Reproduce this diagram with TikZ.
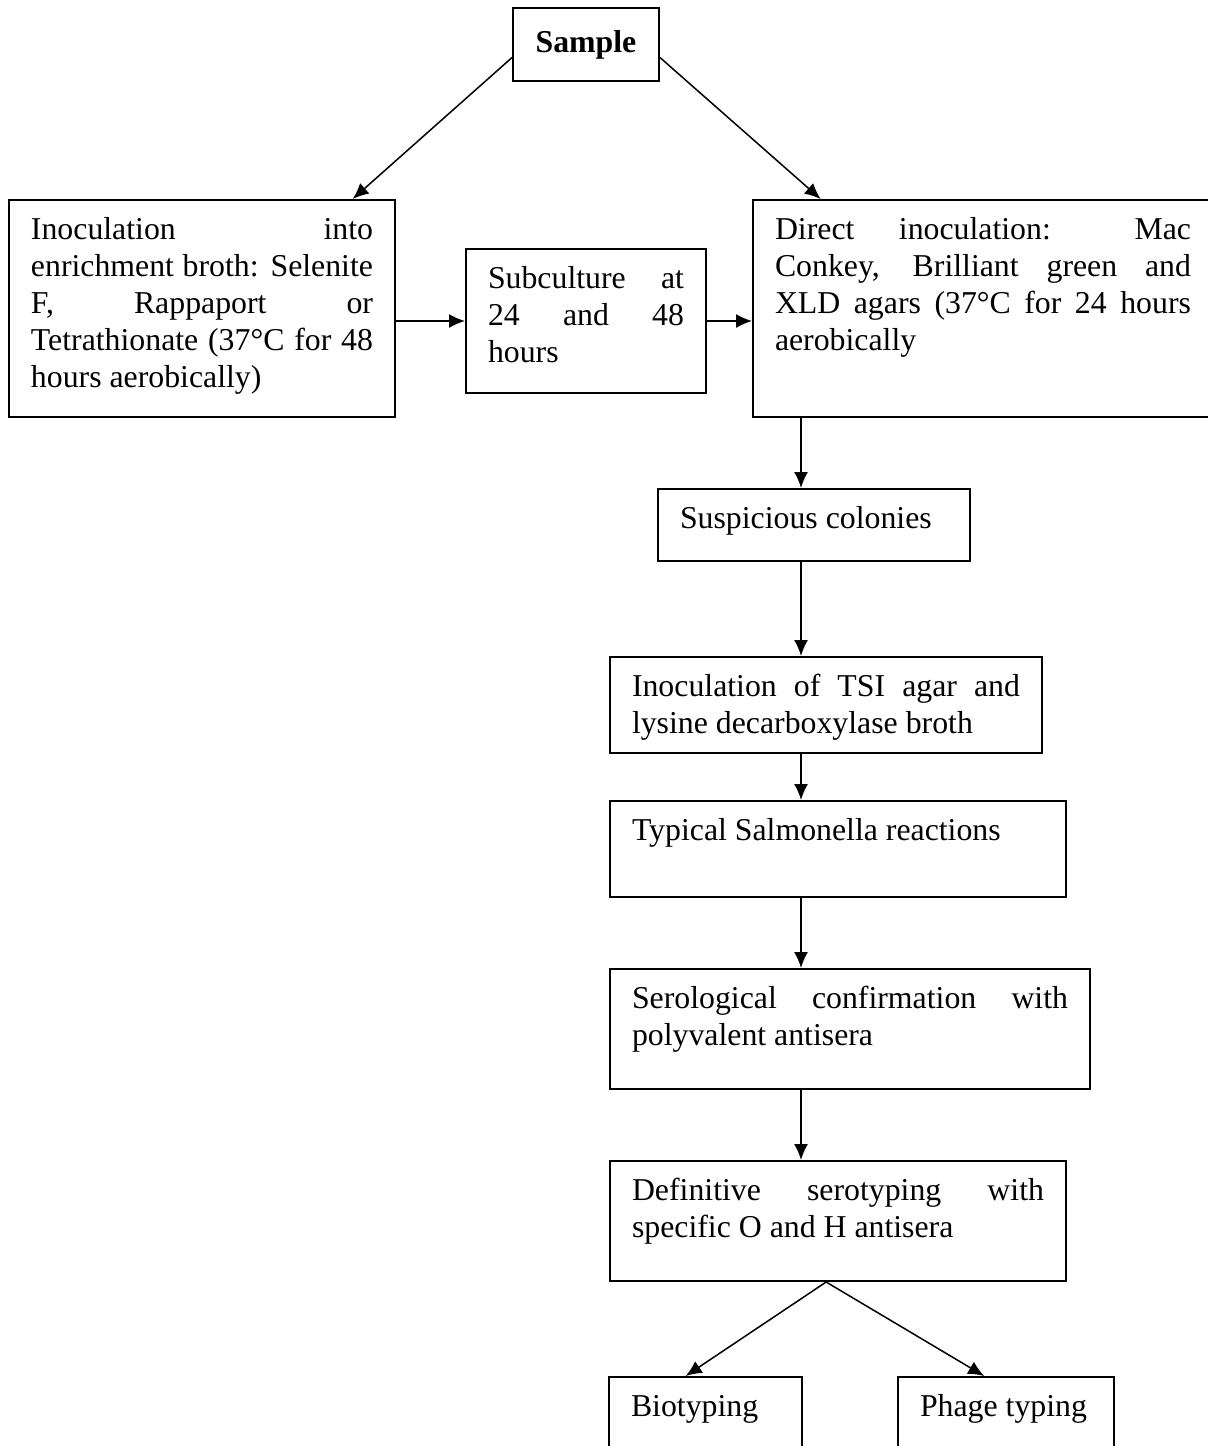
\documentclass[tikz,border=0pt]{standalone}
\usepackage{fontspec}
\setmainfont{Liberation Serif}
\usetikzlibrary{arrows.meta}
\newcommand\flowfont{\fontsize{15.9pt}{18.5pt}\selectfont\normalbaselineskip=18.5pt\relax}

\begin{document}
\begin{tikzpicture}[x=0.5pt,y=-0.5pt,font=\flowfont,
   >={Latex[length=8pt,width=7pt]},
   stepbox/.style={draw,line width=1pt,anchor=north west,align=justify,
      inner xsep=11pt,inner ysep=0pt,text height=19.75pt},
   flow/.style={line width=0.75pt}]
   \useasboundingbox (0,0) rectangle (1207,1446);

   \node[draw,line width=1pt,anchor=north west,inner sep=0pt,
         minimum width=73pt,minimum height=36.5pt,font=\flowfont\bfseries]
         (sample) at (512,7) {Sample};
   \node[stepbox,text width=171pt,text depth=88.75pt] (inoc) at (8,199)
      {Inoculation into\linebreak enrichment broth: Selenite\linebreak
       F, Rappaport or\linebreak Tetrathionate (37°C for 48\linebreak
       hours aerobically)};
   \node[stepbox,text width=98pt,text depth=52.25pt] (subc) at (465,248)
      {Subculture at\linebreak 24 and 48\linebreak hours};
   \node[stepbox,text width=208pt,text depth=88.75pt] (direct) at (752,199)
      {Direct inoculation: Mac\linebreak Conkey, Brilliant green and\linebreak
       XLD agars (37°C for 24 hours\linebreak aerobically};
   \node[stepbox,text width=134pt,text depth=16.25pt] (susp) at (657,488)
      {Suspicious colonies};
   \node[stepbox,text width=194pt,text depth=28.25pt] (tsi) at (609,656)
      {Inoculation of TSI agar and\linebreak lysine decarboxylase broth};
   \node[stepbox,text width=206pt,text depth=28.25pt] (typical) at (609,800)
      {Typical Salmonella reactions};
   \node[stepbox,text width=218pt,text depth=40.25pt] (sero) at (609,968)
      {Serological confirmation with\linebreak polyvalent antisera};
   \node[stepbox,text width=206pt,text depth=40.25pt] (defin) at (609,1160)
      {Definitive serotyping with\linebreak specific O and H antisera};
   \node[stepbox,text width=74.5pt,text depth=28.25pt] (bio) at (608,1376)
      {Biotyping};
   \node[stepbox,text width=86pt,text depth=28.25pt] (phage) at (897,1376)
      {Phage typing};

   \coordinate (spine) at (801,0);

   \path[->,flow]
   (sample.190) edge (inoc.36)
   (sample.350) edge (direct.146)
   (inoc.east |- subc.west) edge (subc.west)
   (subc.east) edge (subc.east -| direct.west)
   (direct.south -| spine) edge (susp.north -| spine)
   (susp.south -| spine) edge (tsi.north -| spine)
   (tsi.south -| spine) edge (typical.north -| spine)
   (typical.south -| spine) edge (sero.north -| spine)
   (sero.south -| spine) edge (defin.north -| spine)
   (defin.259) edge (bio.112)
               edge (phage.114);
\end{tikzpicture}
\end{document}
